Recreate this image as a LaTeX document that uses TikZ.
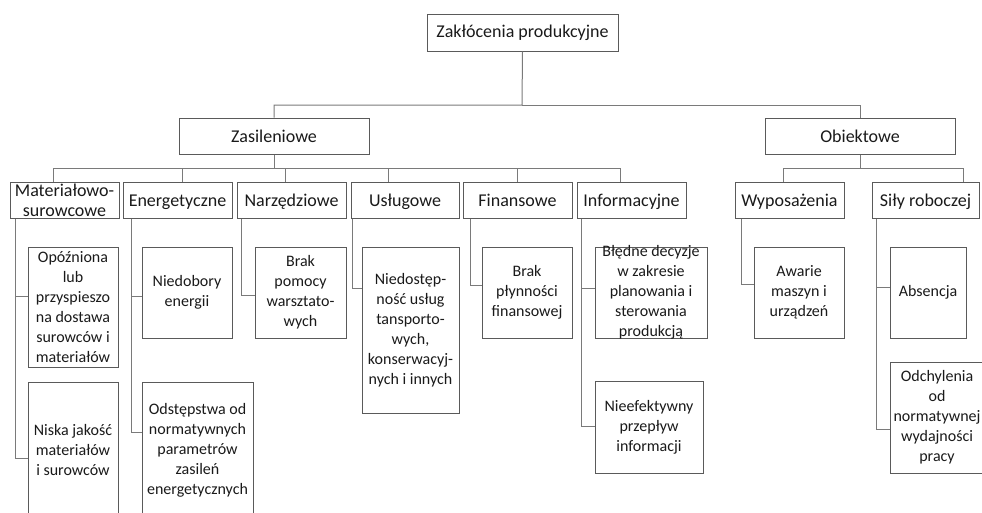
\documentclass[tikz,border=0pt]{standalone}
\usepackage{fontspec}
\setmainfont{Carlito}
\definecolor{boxcol}{HTML}{5A5A5A}
\definecolor{linecol}{HTML}{7A7A7A}
\definecolor{txtcol}{HTML}{1A1A1A}
\begin{document}
\begin{tikzpicture}[x=1pt,y=-1pt,
  box/.style={draw=boxcol, line width=1pt, fill=white, inner sep=0pt, align=center, text=txtcol},
  big/.style={box, font=\fontsize{18}{20}\selectfont},
  one/.style={big, text height=13pt, text depth=0pt},
  small/.style={box, font=\fontsize{16}{20}\selectfont},
  txt/.style={inner sep=0pt, align=center, text=txtcol, font=\fontsize{16}{20}\selectfont},
  conn/.style={draw=linecol, line width=1pt}]
\useasboundingbox (0,0) rectangle (982,512);
\fill[white] (0,0) rectangle (982,512);

% level 1
\node[big, minimum width=191, minimum height=37] (root) at (522.5,32.5) {Zakłócenia produkcyjne};
% level 1.5
\node[one, minimum width=190, minimum height=36] (zas) at (274,136) {Zasileniowe};
\node[one, minimum width=190, minimum height=36] (obi) at (860,136) {Obiektowe};
% level 2
\node[big, minimum width=109, minimum height=36] (mat) at (64.5,200) {Materiałowo-\\surowcowe};
\node[one, minimum width=109, minimum height=36] (ene) at (177.5,200) {Energetyczne};
\node[one, minimum width=109, minimum height=36] (nar) at (291.5,200) {Narzędziowe};
\node[one, minimum width=108, minimum height=36] (usl) at (405,200) {Usługowe};
\node[one, minimum width=109, minimum height=36] (fin) at (517.5,200) {Finansowe};
\node[one, minimum width=109, minimum height=36] (inf) at (631.5,200) {Informacyjne};
\node[one, minimum width=109, minimum height=36] (wyp) at (789.5,200) {Wyposażenia};
\node[one, minimum width=107, minimum height=36] (sil) at (925.5,200) {Siły roboczej};

% level 3
\node[small, minimum width=90, minimum height=120] (op) at (73,307) {Opóźniona\\lub\\przyspieszo\\na dostawa\\surowców i\\materiałów};
\node[small, minimum width=90, minimum height=136] (nis) at (73,450) {Niska jakość\\materiałów\\i surowców};
\node[small, minimum width=90, minimum height=91] (nied) at (187,292.5) {Niedobory\\energii};
\node[small, minimum width=111, minimum height=136] (odst) at (197.5,450) {Odstępstwa od\\normatywnych\\parametrów\\zasileń\\energetycznych};
\node[small, minimum width=91, minimum height=91] (brak) at (300.5,292.5) {Brak\\pomocy\\warsztato-\\wych};
\node[small, minimum width=97, minimum height=166] (niedost) at (410.5,330) {Niedostęp-\\ność usług\\tansporto-\\wych,\\konserwacyj-\\nych i innych};
\node[small, minimum width=90, minimum height=91] (plyn) at (527,292.5) {Brak\\płynności\\finansowej};
\node[box, minimum width=112, minimum height=91] (bled) at (651,292.5) {};
\node[txt] (bledt) at (bled.center) {Błędne decyzje\\w zakresie\\planowania i\\sterowania\\produkcją};
\node[small, minimum width=108, minimum height=92] (nieef) at (649,427) {Nieefektywny\\przepływ\\informacji};
\node[small, minimum width=90, minimum height=91] (awar) at (799,292.5) {Awarie\\maszyn i\\urządzeń};
\node[small, minimum width=76, minimum height=91] (abs) at (928,292.5) {Absencja};
\node[small, minimum width=94, minimum height=111] (odch) at (937,417.5) {Odchylenia\\od\\normatywnej\\wydajności\\pracy};

% connectors level 1
\coordinate (j0) at (522,105);
\draw[conn] (root.south) -- (j0) -| (zas.north);
\draw[conn] (j0) -| (obi.north);

% connectors zasileniowe
\coordinate (jz) at (274,169);
\draw[conn] (zas.south) -- (jz);
\draw[conn] ([xshift=-11.5pt]mat.north) -- ++(0,-13) -| ([xshift=-11.5pt]inf.north);
\foreach \n/\s in {ene/4.5, nar/-6.5, usl/-17, fin/0}
  \draw[conn] ([xshift=\s pt]\n.north) -- ++(0,-13);

% connectors obiektowe
\coordinate (jo) at (860,169);
\draw[conn] (obi.south) -- (jo);
\draw[conn] ([xshift=-6.5pt]wyp.north) -- ++(0,-13) -| ([xshift=37.5pt]sil.north);

% level 3 connectors
\draw[conn] ([xshift=6pt]mat.south west) |- ([yshift=11pt]op.west);
\draw[conn] ([xshift=6pt]mat.south west) |- ([yshift=-8pt]nis.west);
\draw[conn] ([xshift=9pt]ene.south west) |- ([yshift=-3.5pt]nied.west);
\draw[conn] ([xshift=9pt]ene.south west) |- ([yshift=18pt]odst.west);
\draw[conn] ([xshift=5pt]nar.south west) |- ([yshift=-2.5pt]brak.west);
\draw[conn] ([xshift=2pt]usl.south west) |- ([yshift=42pt]niedost.west);
\draw[conn] ([xshift=8pt]fin.south west) |- ([yshift=7.5pt]plyn.west);
\draw[conn] ([xshift=5pt]inf.south west) |- ([yshift=4.5pt]bled.west);
\draw[conn] ([xshift=5pt]inf.south west) |- ([yshift=1pt]nieef.west);
\draw[conn] ([xshift=7pt]wyp.south west) |- ([yshift=8.5pt]awar.west);
\draw[conn] ([xshift=5pt]sil.south west) |- ([yshift=5.5pt]abs.west);
\draw[conn] ([xshift=5pt]sil.south west) |- ([yshift=-11.5pt]odch.west);
\end{tikzpicture}
\end{document}
